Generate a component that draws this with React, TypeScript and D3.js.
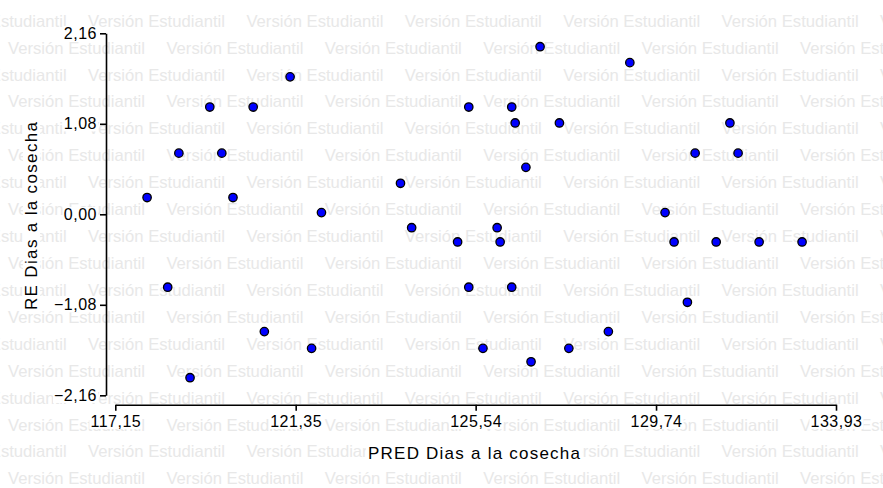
import React, { useEffect, useRef } from "react";
import * as d3 from "d3";

// PRED Dias a la cosecha vs RE Dias a la cosecha
const predValues = [
  117.89, 118.37, 118.63, 118.89, 119.35, 119.63, 119.89, 120.36, 120.62,
  121.22, 121.72, 121.95, 123.79, 124.05, 125.12, 125.38, 125.38, 125.71,
  126.04, 126.11, 126.38, 126.38, 126.46, 126.71, 126.83, 127.04, 127.49,
  127.71, 128.63, 129.13, 129.95, 130.16, 130.47, 130.65, 131.14, 131.46,
  131.65, 132.14, 133.14,
];
const residValues = [
  0.2, -0.87, 0.73, -1.95, 1.28, 0.73, 0.2, 1.28, -1.4,
  1.64, -1.6, 0.02, 0.37, -0.16, -0.33, 1.28, -0.87, -1.6,
  -0.16, -0.33, 1.28, -0.87, 1.09, 0.56, -1.76, 2.0, 1.09,
  -1.6, -1.4, 1.81, 0.02, -0.33, -1.05, 0.73, -0.33, 1.09,
  0.73, -0.33, -0.33,
];

const xTicks = [117.15, 121.35, 125.54, 129.74, 133.93];
const yTicks = [-2.16, -1.08, 0, 1.08, 2.16];

const xTitle = "PRED Dias a la cosecha";
const yTitle = "RE Dias a la cosecha";
const watermark = "Versión Estudiantil";

const W = 883;
const H = 488;

const locale = d3.formatLocale({
  decimal: ",",
  thousands: ".",
  grouping: [3],
  currency: ["", ""],
});
const fmt = locale.format(".2f");

// white box behind a text so the watermark doesn't run through it
const maskText = (node: SVGTextElement | null, pad = 1) => {
  if (!node) return;
  const b = node.getBBox();
  const parent = node.parentNode as SVGGElement;
  d3.select(parent).selectAll("rect.mask").remove();
  d3.select(parent)
    .insert("rect", () => node)
    .attr("class", "mask")
    .attr("x", b.x - pad)
    .attr("y", b.y + 1)
    .attr("width", b.width + pad * 2)
    .attr("height", b.height - 2)
    .attr("fill", "#fff");
};

const App: React.FC = () => {
  const xAxisRef = useRef<SVGGElement>(null);
  const yAxisRef = useRef<SVGGElement>(null);
  const xTitleRef = useRef<SVGTextElement>(null);
  const yTitleRef = useRef<SVGTextElement>(null);

  const xScale = d3.scaleLinear().domain([117.15, 133.93]).range([115.3, 836]);
  const yScale = d3.scaleLinear().domain([-2.16, 2.16]).range([395.3, 33.3]);

  useEffect(() => {
    const styleAxis = (g: d3.Selection<SVGGElement, unknown, null, undefined>) => {
      g.select(".domain").attr("stroke", "#000").attr("stroke-width", 1.6);
      g.selectAll(".tick line").attr("stroke", "#000").attr("stroke-width", 1.6);
      g.selectAll<SVGTextElement, unknown>(".tick text")
        .attr("fill", "#000")
        .attr("font-size", 16)
        .attr("letter-spacing", 0.5)
        .attr("font-family", "Liberation Sans, Arial, sans-serif")
        .each(function () {
          maskText(this);
        });
    };

    const gx = d3.select(xAxisRef.current!);
    gx.selectAll("*").remove();
    gx.call(
      d3.axisBottom(xScale)
        .tickValues(xTicks)
        .tickSize(6)
        .tickSizeOuter(0)
        .tickPadding(5)
        .tickFormat((d) => fmt(d as number))
    );
    styleAxis(gx);

    const gy = d3.select(yAxisRef.current!);
    gy.selectAll("*").remove();
    gy.call(
      d3.axisLeft(yScale)
        .tickValues(yTicks)
        .tickSize(6)
        .tickSizeOuter(0)
        .tickPadding(3)
        .tickFormat((d) => fmt(d as number))
    );
    styleAxis(gy);

    maskText(xTitleRef.current, 2);
    maskText(yTitleRef.current, 2);
  }, []);

  // background watermark rows
  const rows: JSX.Element[] = [];
  const period = 158.4;
  const rowGap = 26.92;
  for (let r = 0; r < 18; r++) {
    const y = 20.7 + r * rowGap + 6;
    const start = r % 2 === 0 ? 88 - period : 8;
    for (let k = 0; k < 7; k++) {
      const x = start + k * period;
      rows.push(
        <text
          key={`${r}-${k}`}
          x={x}
          y={y}
          fontSize={16.5}
          textLength={137}
          lengthAdjust="spacingAndGlyphs"
          fill="#e8e8e8"
        >
          {watermark}
        </text>
      );
    }
  }

  return (
    <div style={{ position: "absolute", left: 0, top: 0 }}>
      <svg width={W} height={H} viewBox={`0 0 ${W} ${H}`}
        style={{ display: "block", background: "#fff" }}
        fontFamily="Liberation Sans, Arial, sans-serif">
        <g>{rows}</g>
        <g ref={xAxisRef} transform="translate(0,404.7)" />
        <g ref={yAxisRef} transform="translate(106,0)" />
        <g>
          {predValues.map((p, i) => (
            <circle
              key={i}
              cx={xScale(p)}
              cy={yScale(residValues[i])}
              r={4.2}
              fill="#0000ff"
              stroke="#000"
              strokeWidth={1.3}
            />
          ))}
        </g>
        <g>
          <text ref={xTitleRef} x={474} y={459} textAnchor="middle" fontSize={17}
            textLength={212} lengthAdjust="spacing" fill="#000">
            {xTitle}
          </text>
        </g>
        <g transform="translate(37,216) rotate(-90)">
          <text ref={yTitleRef} x={0} y={0} textAnchor="middle"
            fontSize={17} textLength={188} lengthAdjust="spacing" fill="#000">
            {yTitle}
          </text>
        </g>
      </svg>
    </div>
  );
};

export default App;
